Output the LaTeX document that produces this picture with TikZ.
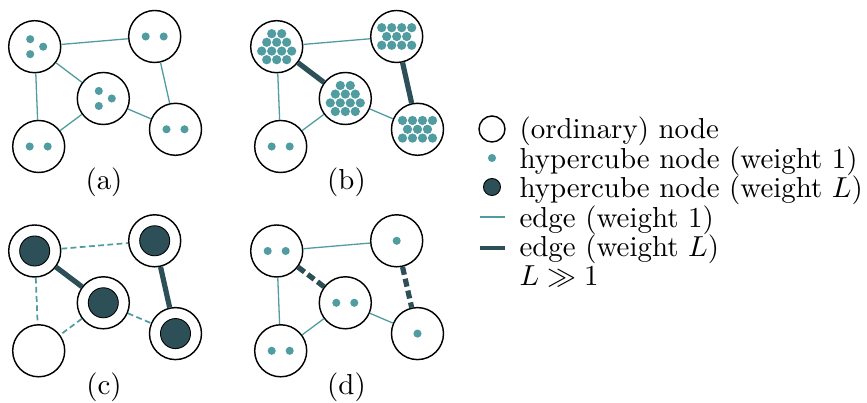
\documentclass[tikz,border=0pt]{standalone}
\usetikzlibrary{calc}
\definecolor{teal1}{RGB}{80,156,160}
\definecolor{dark1}{RGB}{45,79,87}
\begin{document}
\begin{tikzpicture}[x=0.346pt,y=-0.346pt,
  gnode/.style={circle,draw=black,line width=0.5pt,fill=white,minimum size=18pt,inner sep=0pt},
  edge1/.style={teal1,line width=0.45pt},
  edgeL/.style={dark1,line width=1.8pt},
  dedge1/.style={teal1,line width=0.6pt,dash pattern=on 2pt off 1.2pt},
  dedgeL/.style={dark1,line width=1.8pt,dash pattern=on 2.8pt off 1.4pt},
  sublbl/.style={anchor=base,inner sep=0pt},
  ltext/.style={anchor=base west,inner sep=0pt},
  tdot/.style={teal1},
]
\useasboundingbox (0,0) rectangle (867,403);

% ---------- panel (a)
\node[gnode] (a1) at (34.7,46.7) {};
\node[gnode] (a2) at (154.7,36.5) {};
\node[gnode] (a3) at (103.3,98.5) {};
\node[gnode] (a4) at (38.7,146.5) {};
\node[gnode] (a5) at (175.5,129.3) {};
\draw[edge1] (a1) -- (a2);
\draw[edge1] (a1) -- (a3);
\draw[edge1] (a1) -- (a4);
\draw[edge1] (a2) -- (a5);
\draw[edge1] (a3) -- (a4);
\draw[edge1] (a3) -- (a5);
\foreach \n in {a1,a3}{
  \foreach \dx/\dy in {-4.5/-7.5,-4.5/7.5,8.5/0}
    \fill[tdot] ($(\n)+(\dx,\dy)$) circle (1.4pt);
}
\foreach \n in {a2,a4,a5}{
  \foreach \dx in {-9,9}
    \fill[tdot] ($(\n)+(\dx,0)$) circle (1.4pt);
}
\node[sublbl] (la) at (104,190) {(a)};

% ---------- panel (b)
\node[gnode] (b1) at (276.7,46.7) {};
\node[gnode] (b2) at (396.7,36.5) {};
\node[gnode] (b3) at (345.3,98.5) {};
\node[gnode] (b4) at (280.7,146.5) {};
\node[gnode] (b5) at (417.5,129.3) {};
\draw[edge1] (b1) -- (b2);
\draw[edgeL] (b1) -- (b3);
\draw[edge1] (b1) -- (b4);
\draw[edgeL] (b2) -- (b5);
\draw[edge1] (b3) -- (b4);
\draw[edge1] (b3) -- (b5);
\foreach \n in {b1,b3}{
  \foreach \dx/\dy in {-5/-13,5/-13,-10/-4.4,0/-4.4,10/-4.4,-15/4.4,-5/4.4,5/4.4,15/4.4,-10/13,0/13,10/13}
    \fill[tdot] ($(\n)+(\dx,\dy)$) circle (1.6pt);
}
\foreach \n in {b2,b5}{
  \foreach \dx/\dy in {-15/-8.8,-5/-8.8,5/-8.8,15/-8.8,-10/0,0/0,10/0,-15/8.8,-5/8.8,5/8.8,15/8.8}
    \fill[tdot] ($(\n)+(\dx,\dy)$) circle (1.6pt);
}
\foreach \dx in {-9,9}
  \fill[tdot] ($(b4)+(\dx,0)$) circle (1.4pt);
\node[sublbl] (lb) at (346.5,190) {(b)};

% ---------- panel (c)
\node[gnode] (c1) at (34.7,251) {};
\node[gnode] (c2) at (154.7,240.8) {};
\node[gnode] (c3) at (103.3,302.8) {};
\node[gnode] (c4) at (38.7,350.8) {};
\node[gnode] (c5) at (175.5,333.6) {};
\draw[dedge1] (c1) -- (c2);
\draw[edgeL] (c1) -- (c3);
\draw[dedge1] (c1) -- (c4);
\draw[edgeL] (c2) -- (c5);
\draw[dedge1] (c3) -- (c4);
\draw[dedge1] (c3) -- (c5);
\foreach \n in {c1,c2,c3,c5}
  \fill[dark1,draw=black,line width=0.3pt] (\n) circle (5.2pt);
\node[sublbl] (lc) at (104,394.5) {(c)};

% ---------- panel (d)
\node[gnode] (d1) at (276.7,251) {};
\node[gnode] (d2) at (396.7,240.8) {};
\node[gnode] (d3) at (345.3,302.8) {};
\node[gnode] (d4) at (280.7,350.8) {};
\node[gnode] (d5) at (417.5,333.6) {};
\draw[edge1] (d1) -- (d2);
\draw[dedgeL] (d1) -- (d3);
\draw[edge1] (d1) -- (d4);
\draw[dedgeL] (d2) -- (d5);
\draw[edge1] (d3) -- (d4);
\draw[edge1] (d3) -- (d5);
\foreach \n in {d1,d3,d4}{
  \foreach \dx in {-9,9}
    \fill[tdot] ($(\n)+(\dx,0)$) circle (1.4pt);
}
\foreach \n in {d2,d5}
  \fill[tdot] (\n) circle (1.4pt);
\node[sublbl] (ld) at (346.5,394.5) {(d)};

% ---------- legend
\node[gnode,minimum size=9pt] (lg1) at (492,129) {};
\node[circle,fill=teal1,minimum size=2.8pt,inner sep=0pt] (lg2) at (492,158) {};
\node[circle,fill=dark1,draw=black,line width=0.3pt,minimum size=5.9pt,inner sep=0pt] (lg3) at (492,187) {};
\coordinate (lg4a) at (480,217);
\coordinate (lg4b) at (505,217);
\draw[edge1] (lg4a) -- (lg4b);
\coordinate (lg5a) at (480,248);
\coordinate (lg5b) at (505,248);
\draw[dark1,line width=1.6pt] (lg5a) -- (lg5b);

\node[ltext] (t1) at (519,139) {(ordinary) node};
\node[ltext] (t2) at (519,168.4) {hypercube node (weight 1)};
\node[ltext] (t3) at (519,197.8) {hypercube node (weight $L$)};
\node[ltext] (t4) at (519,227.2) {edge (weight 1)};
\node[ltext] (t5) at (519,256.6) {edge (weight $L$)};
\node[ltext] (t6) at (519,286) {$L \gg 1$};
\end{tikzpicture}
\end{document}
